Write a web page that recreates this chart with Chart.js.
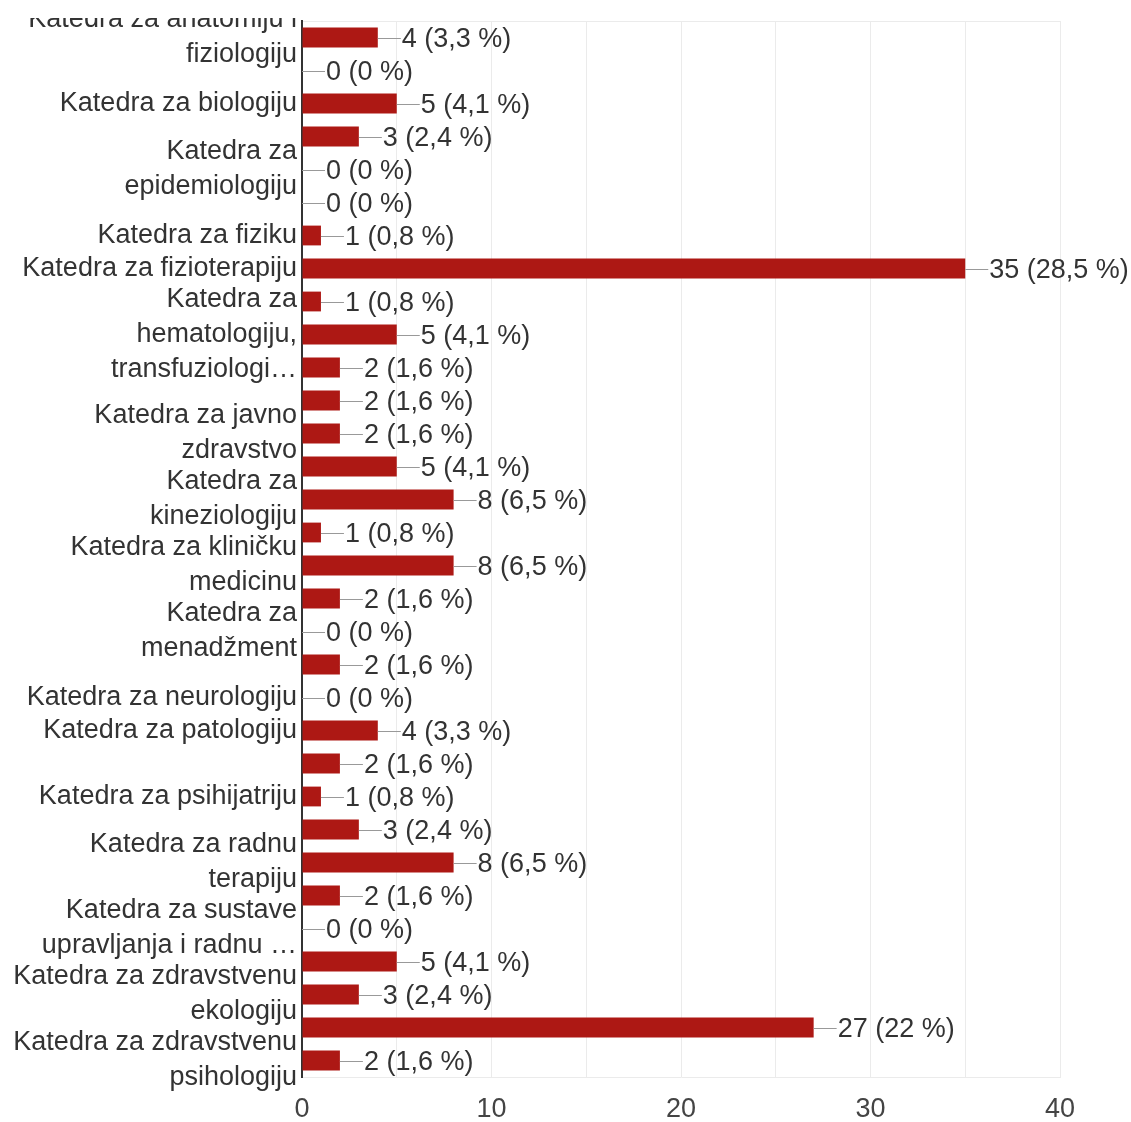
<!DOCTYPE html>
<html lang="hr">
<head>
  <meta charset="UTF-8">
  <title>Katedre</title>
  <style>
    * {
      margin: 0;
      padding: 0;
      box-sizing: border-box;
    }

    body {
      width: 1131px;
      height: 1122px;
      background: #fff;
      overflow: hidden;
    }

    /* the chart starts a little below the top, the first label is cut there */
    .chart-box {
      position: absolute;
      left: 0;
      top: 18px;
      width: 1131px;
      height: 1104px;
    }
  </style>
</head>
<body>
  <div class="chart-box">
    <canvas id="chart"></canvas>
  </div>

  <script src="https://cdn.jsdelivr.net/npm/chart.js"></script>
  <script>
    // y tick labels as shown (empty where the chart skips the label)
    const yTickLabels = [
      ['Katedra za anatomiju i', 'fiziologiju'],
      '',
      'Katedra za biologiju',
      '',
      ['Katedra za', 'epidemiologiju'],
      '',
      'Katedra za fiziku',
      'Katedra za fizioterapiju',
      '',
      ['Katedra za', 'hematologiju,', 'transfuziologi…'],
      '',
      '',
      ['Katedra za javno', 'zdravstvo'],
      '',
      ['Katedra za', 'kineziologiju'],
      '',
      ['Katedra za kliničku', 'medicinu'],
      '',
      ['Katedra za', 'menadžment'],
      '',
      'Katedra za neurologiju',
      'Katedra za patologiju',
      '',
      'Katedra za psihijatriju',
      '',
      ['Katedra za radnu', 'terapiju'],
      '',
      ['Katedra za sustave', 'upravljanja i radnu …'],
      '',
      ['Katedra za zdravstvenu', 'ekologiju'],
      '',
      ['Katedra za zdravstvenu', 'psihologiju']
    ];

    const counts = [4, 0, 5, 3, 0, 0, 1, 35, 1, 5, 2, 2, 2, 5, 8, 1,
                    8, 2, 0, 2, 0, 4, 2, 1, 3, 8, 2, 0, 5, 3, 27, 2];

    const percents = [3.3, 0, 4.1, 2.4, 0, 0, 0.8, 28.5, 0.8, 4.1, 1.6, 1.6, 1.6, 4.1, 6.5, 0.8,
                      6.5, 1.6, 0, 1.6, 0, 3.3, 1.6, 0.8, 2.4, 6.5, 1.6, 0, 4.1, 2.4, 22, 1.6];

    const xTickValues = [0, 10, 20, 30, 40];

    const FONT = 'Arial, "Liberation Sans", sans-serif';
    Chart.defaults.font.family = FONT;

    // "n (p %)" text with a short stem line after every bar
    const valueLabels = {
      id: 'valueLabels',
      afterDatasetsDraw(chart) {
        const ctx = chart.ctx;
        const meta = chart.getDatasetMeta(0);
        ctx.save();
        ctx.font = '27px ' + FONT;
        ctx.textBaseline = 'middle';
        ctx.textAlign = 'left';
        meta.data.forEach((bar, i) => {
          const x = bar.x;
          const y = Math.round(bar.y) + 0.5;
          ctx.strokeStyle = '#999';
          ctx.lineWidth = 1;
          ctx.beginPath();
          ctx.moveTo(x, y);
          ctx.lineTo(x + 23, y);
          ctx.stroke();
          ctx.fillStyle = '#333';
          const pct = String(percents[i]).replace('.', ',');
          ctx.fillText(counts[i] + ' (' + pct + ' %)', x + 24, y + 1);
        });
        ctx.restore();
      }
    };

    new Chart(document.getElementById('chart'), {
      type: 'bar',
      data: {
        labels: yTickLabels,
        datasets: [{
          data: counts,
          backgroundColor: '#ad1814',
          barPercentage: 0.6,
          categoryPercentage: 1
        }]
      },
      options: {
        indexAxis: 'y',
        responsive: true,
        maintainAspectRatio: false,
        animation: false,
        layout: {
          padding: { top: 3, right: 71, bottom: 0, left: 0 }
        },
        plugins: {
          legend: { display: false },
          tooltip: { enabled: false }
        },
        scales: {
          x: {
            min: 0,
            max: 40,
            grid: {
              color: '#ebebeb',
              lineWidth: 1,
              drawTicks: false
            },
            border: { color: '#ebebeb', width: 1 },
            ticks: {
              stepSize: 5,
              autoSkip: false,
              maxRotation: 0,
              padding: 16,
              color: '#444',
              font: { size: 27, lineHeight: 1.2 },
              callback: (v) => xTickValues.includes(v) ? v : ''
            },
            afterFit(scale) {
              scale.height = 45;
              scale.paddingLeft = 0;
              scale.paddingRight = 0;
              scale.paddingTop = 0;
              scale.paddingBottom = 0;
            }
          },
          y: {
            z: 1,
            grid: {
              drawTicks: false,
              // only the top edge of the plot gets a line
              color: (c) => c.index === 0 ? '#ebebeb' : 'transparent'
            },
            border: { color: '#333', width: 2 },
            ticks: {
              autoSkip: false,
              padding: 5,
              color: '#333',
              font: { size: 27, lineHeight: 35 / 27 }
            },
            afterFit(scale) {
              scale.width = 302;
              scale.paddingTop = 0;
              scale.paddingBottom = 0;
            }
          }
        }
      },
      plugins: [valueLabels]
    });
  </script>
</body>
</html>
